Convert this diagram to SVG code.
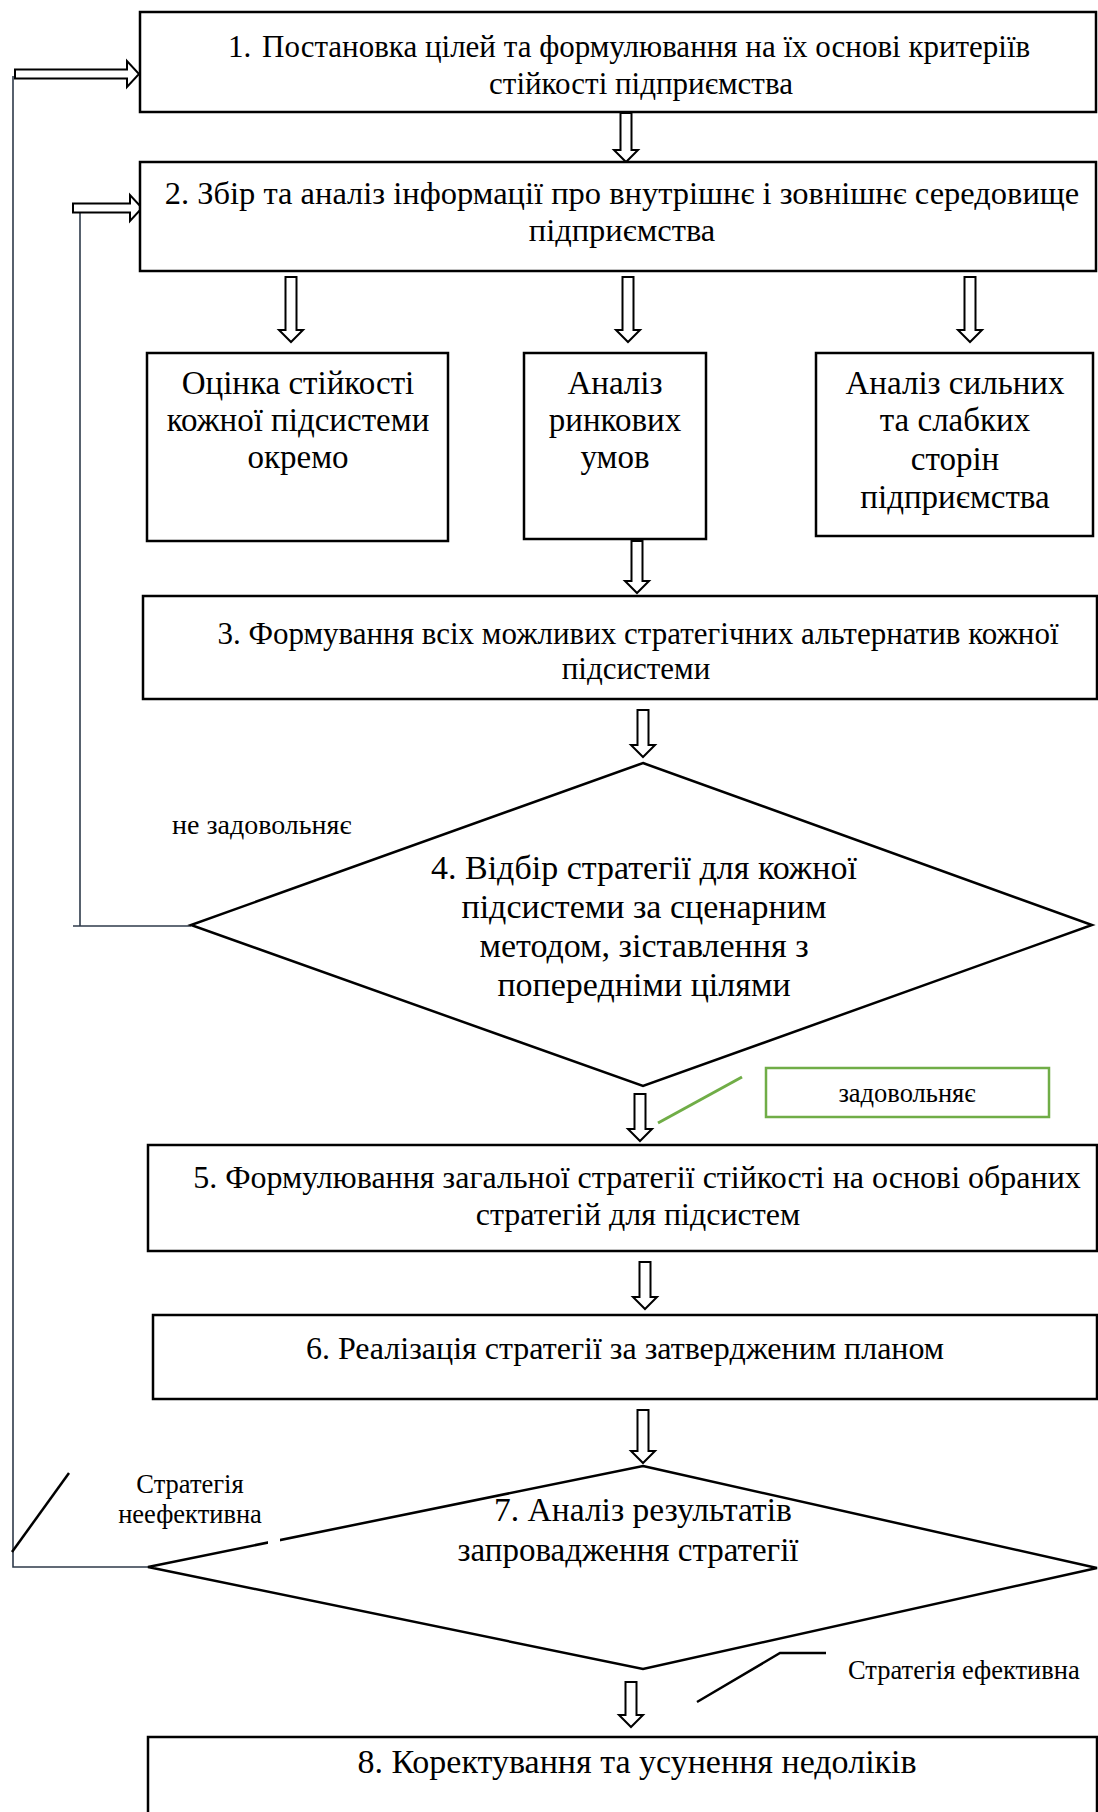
<svg xmlns="http://www.w3.org/2000/svg" width="1098" height="1812" viewBox="0 0 1098 1812">
<style>
.box{fill:#fff;stroke:#000;stroke-width:2.5}
.arr{fill:#fff;stroke:#000;stroke-width:2}
.fb{fill:none;stroke:#2e3a4a;stroke-width:1.6}
.ln{fill:none;stroke:#000;stroke-width:2.5}
.t{font-family:"Liberation Serif","Times New Roman",serif;font-size:32px;fill:#000;text-anchor:middle}
.s{font-family:"Liberation Serif","Times New Roman",serif;font-size:26.5px;fill:#000}
</style>
<rect width="1098" height="1812" fill="#fff"/>
<g id="connectors">
<path class="fb" d="M13,76 V1567 H148"/>
<path class="fb" d="M80,212 V926"/>
<path class="fb" d="M73,926 H191"/>
<polygon class="arr" points="15,69.5 127,69.5 127,61 139,74 127,87 127,78.5 15,78.5"/>
<polygon class="arr" points="73,203.5 130,203.5 130,195 142,208 130,221 130,212.5 73,212.5"/>
<polygon class="arr" points="620.5,113 631.5,113 631.5,150 638,150 626,162 614,150 620.5,150"/>
<polygon class="arr" points="285.5,277 296.5,277 296.5,330 303,330 291,342 279,330 285.5,330"/>
<polygon class="arr" points="622.5,277 633.5,277 633.5,330 640,330 628,342 616,330 622.5,330"/>
<polygon class="arr" points="964.5,277 975.5,277 975.5,330 982,330 970,342 958,330 964.5,330"/>
<polygon class="arr" points="631.5,541 642.5,541 642.5,581 649,581 637,593 625,581 631.5,581"/>
<polygon class="arr" points="637.5,710 648.5,710 648.5,745 655,745 643,757 631,745 637.5,745"/>
<polygon class="arr" points="634.5,1094 645.5,1094 645.5,1129 652,1129 640,1141 628,1129 634.5,1129"/>
<polygon class="arr" points="639.5,1262 650.5,1262 650.5,1297 657,1297 645,1309 633,1297 639.5,1297"/>
<polygon class="arr" points="637.5,1410 648.5,1410 648.5,1451 655,1451 643,1463 631,1451 637.5,1451"/>
<polygon class="arr" points="625.5,1682 636.5,1682 636.5,1715 643,1715 631,1727 619,1715 625.5,1715"/>
<line x1="658" y1="1123" x2="742" y2="1077" stroke="#70ad47" stroke-width="3"/>
<path class="ln" d="M12,1552 L69,1473"/>
<path class="ln" d="M697,1702 L780,1653 H826"/>
</g>
<g id="n1">
<rect class="box" x="140" y="12" width="956" height="100"/>
<text class="t" x="228" y="57" style="text-anchor:start;font-size:31px">1.</text>
<text class="t" x="262" y="57" style="text-anchor:start;font-size:31px">Постановка цілей та формулювання на їх основі критеріїв</text>
<text class="t" x="641" y="94" style="font-size:31px">стійкості підприємства</text>
</g>
<g id="n2">
<rect class="box" x="140" y="162" width="956" height="109"/>
<text class="t" x="622" y="204" style="font-size:32.5px">2. Збір та аналіз інформації про внутрішнє і зовнішнє середовище</text>
<text class="t" x="622" y="241" style="font-size:32.5px">підприємства</text>
</g>
<g id="nA">
<rect class="box" x="147" y="353" width="301" height="188"/>
<text class="t" x="298" y="394" style="font-size:33px">Оцінка стійкості</text>
<text class="t" x="298" y="431" style="font-size:33px">кожної підсистеми</text>
<text class="t" x="298" y="468" style="font-size:33px">окремо</text>
</g>
<g id="nB">
<rect class="box" x="524" y="353" width="182" height="186"/>
<text class="t" x="615" y="394" style="font-size:33px">Аналіз</text>
<text class="t" x="615" y="431" style="font-size:33px">ринкових</text>
<text class="t" x="615" y="468" style="font-size:33px">умов</text>
</g>
<g id="nC">
<rect class="box" x="816" y="353" width="277" height="183"/>
<text class="t" x="955" y="394" style="font-size:33px">Аналіз сильних</text>
<text class="t" x="955" y="431" style="font-size:33px">та слабких</text>
<text class="t" x="955" y="470" style="font-size:33px">сторін</text>
<text class="t" x="955" y="508" style="font-size:33px">підприємства</text>
</g>
<g id="n3">
<rect class="box" x="143" y="596" width="954" height="103"/>
<text class="t" x="638" y="644" style="font-size:31px">3. Формування всіх можливих стратегічних альтернатив кожної</text>
<text class="t" x="636" y="679" style="font-size:31px">підсистеми</text>
</g>
<g id="n4">
<polygon class="box" points="643,763 1092,925 643,1086 191,925"/>
<text class="t" x="644" y="879" style="font-size:34px">4. Відбір стратегії для кожної</text>
<text class="t" x="644" y="918" style="font-size:34px">підсистеми за сценарним</text>
<text class="t" x="644" y="957" style="font-size:34px">методом, зіставлення з</text>
<text class="t" x="644" y="996" style="font-size:34px">попередніми цілями</text>
</g>
<g id="lbl-no">
<text class="s" x="172" y="834" style="font-size:28px">не задовольняє</text>
</g>
<g id="lbl-yes">
<rect x="766" y="1068" width="283" height="49" fill="#fff" stroke="#70ad47" stroke-width="2.5"/>
<text class="s" x="907" y="1102" style="text-anchor:middle">задовольняє</text>
</g>
<g id="n5">
<rect class="box" x="148" y="1145" width="949" height="106"/>
<text class="t" x="637" y="1188">5. Формулювання загальної стратегії стійкості на основі обраних</text>
<text class="t" x="638" y="1225">стратегій для підсистем</text>
</g>
<g id="n6">
<rect class="box" x="153" y="1315" width="944" height="84"/>
<text class="t" x="625" y="1359">6. Реалізація стратегії за затвердженим планом</text>
</g>
<g id="n7">
<polygon class="box" points="643,1466 1097,1568 643,1669 148,1567"/>
<rect x="268" y="1536" width="12" height="9" fill="#fff"/>
<text class="t" x="643" y="1521" style="font-size:33.5px">7. Аналіз результатів</text>
<text class="t" x="628" y="1561" style="font-size:33px">запровадження стратегії</text>
</g>
<g id="lbl-bad">
<text class="s" x="190" y="1493" style="text-anchor:middle">Стратегія</text>
<text class="s" x="190" y="1523" style="text-anchor:middle">неефективна</text>
</g>
<g id="lbl-good">
<text class="s" x="848" y="1679">Стратегія ефективна</text>
</g>
<g id="n8">
<rect class="box" x="148" y="1737" width="949" height="90"/>
<text class="t" x="637" y="1773" style="font-size:34px">8. Коректування та усунення недоліків</text>
</g>
</svg>
